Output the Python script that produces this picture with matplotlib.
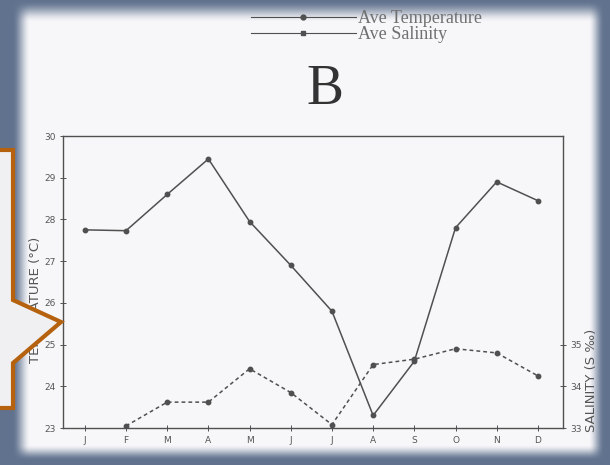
import numpy as np
import matplotlib
matplotlib.use('Agg')
import matplotlib.pyplot as plt
from matplotlib.lines import Line2D
from matplotlib.patches import Polygon

MONTHS = ['J', 'F', 'M', 'A', 'M', 'J', 'J', 'A', 'S', 'O', 'N', 'D']
TEMP = [27.75, 27.73, 28.6, 29.45, 27.95, 26.9, 25.8, 23.3, 24.6, 27.8, 28.9, 28.45]
SAL = [np.nan, 33.05, 33.62, 33.62, 34.42, 33.85, 33.08, 34.52, 34.65, 34.9, 34.8, 34.25]
TEMP_TICKS = [23, 24, 25, 26, 27, 28, 29, 30]
SAL_TICKS = [33, 34, 35]

W, H = 610, 465
INK = '#505050'
TXT = '#555555'

fig = plt.figure(figsize=(W / 100, H / 100), dpi=100)

# photo of slide: bluish border fading into white paper
bg = fig.add_axes([0, 0, 1, 1], zorder=-10)
yy, xx = np.mgrid[0:H, 0:W]
def ramp(d, w):
    t = np.clip(d / w, 0, 1)
    return t * t * (3 - 2 * t)
paper = (ramp(xx - 12, 18) * ramp(W - 6 - xx, 16) *
         ramp(yy - 1, 22) * ramp(H - 5 - yy, 16))
edge = np.array([0.38, 0.45, 0.56])
white = np.array([0.972, 0.970, 0.980])
img = edge[None, None, :] * (1 - paper[..., None]) + white[None, None, :] * paper[..., None]
bg.imshow(img, aspect='auto', extent=[0, W, H, 0])
bg.set_xlim(0, W)
bg.set_ylim(H, 0)
bg.axis('off')

ax = fig.add_axes([63 / W, 1 - 428 / H, 500 / W, 292 / H])
ax.patch.set_alpha(0)
x = np.arange(len(MONTHS))
ax.plot(x, TEMP, color=INK, lw=1.1, marker='o', ms=3.2)
ax.set_xlim(-0.53, 11.61)
ax.set_ylim(23, 30)
ax.set_yticks(TEMP_TICKS)
ax.set_xticks(x)
ax.set_xticklabels(MONTHS)
ax.tick_params(direction='inout', length=4, width=0.7, colors=INK,
               labelsize=6.5, labelcolor=TXT)
for s in ax.spines.values():
    s.set_color(INK)
    s.set_linewidth(1.0)
ax.set_ylabel('TEMPERATURE (°C)', fontsize=9.5, color=TXT)
ax.yaxis.set_label_coords(-0.042, 0.44)

ax2 = ax.twinx()
ax2.plot(x, SAL, color=INK, lw=1.1, ls=(0, (2.5, 2)), marker='o', ms=3.2)
ax2.set_ylim(33, 40)
ax2.set_yticks(SAL_TICKS)
ax2.tick_params(direction='inout', length=4, width=0.7, colors=INK,
                labelsize=6.5, labelcolor=TXT)
for s in ax2.spines.values():
    s.set_visible(False)
fig.text(592 / W, 1 - 380 / H, 'SALINITY (S ‰)', rotation=90, fontsize=9.5,
         color=TXT, ha='center', va='center')

fig.text(325 / W, 1 - 90 / H, 'B', family='Liberation Serif', fontsize=40,
         color='#333333', ha='center', va='center')

handles = [Line2D([], [], color=INK, lw=0.8, marker='o', ms=3.5),
           Line2D([], [], color=INK, lw=0.8, marker='s', ms=3.5)]
fig.legend(handles, ['Ave Temperature', 'Ave Salinity'], loc='upper left',
           bbox_to_anchor=(242 / W, 1 - 1 / H), frameon=False, numpoints=1,
           handlelength=5.8, handletextpad=0.1, labelspacing=-0.05,
           borderpad=0, prop={'family': 'Liberation Serif', 'size': 13},
           labelcolor='#707070')

# callout shape covering the left part
pts = [(-5, 150), (13, 150), (13, 300), (61, 322), (13, 363), (13, 408), (-5, 408)]
poly = Polygon([(px / W, 1 - py / H) for px, py in pts], closed=True,
               transform=fig.transFigure, facecolor='#f0f0f2',
               edgecolor='#b5610e', lw=3, zorder=20)
fig.patches.append(poly)

fig.savefig('out.png', dpi=100)
